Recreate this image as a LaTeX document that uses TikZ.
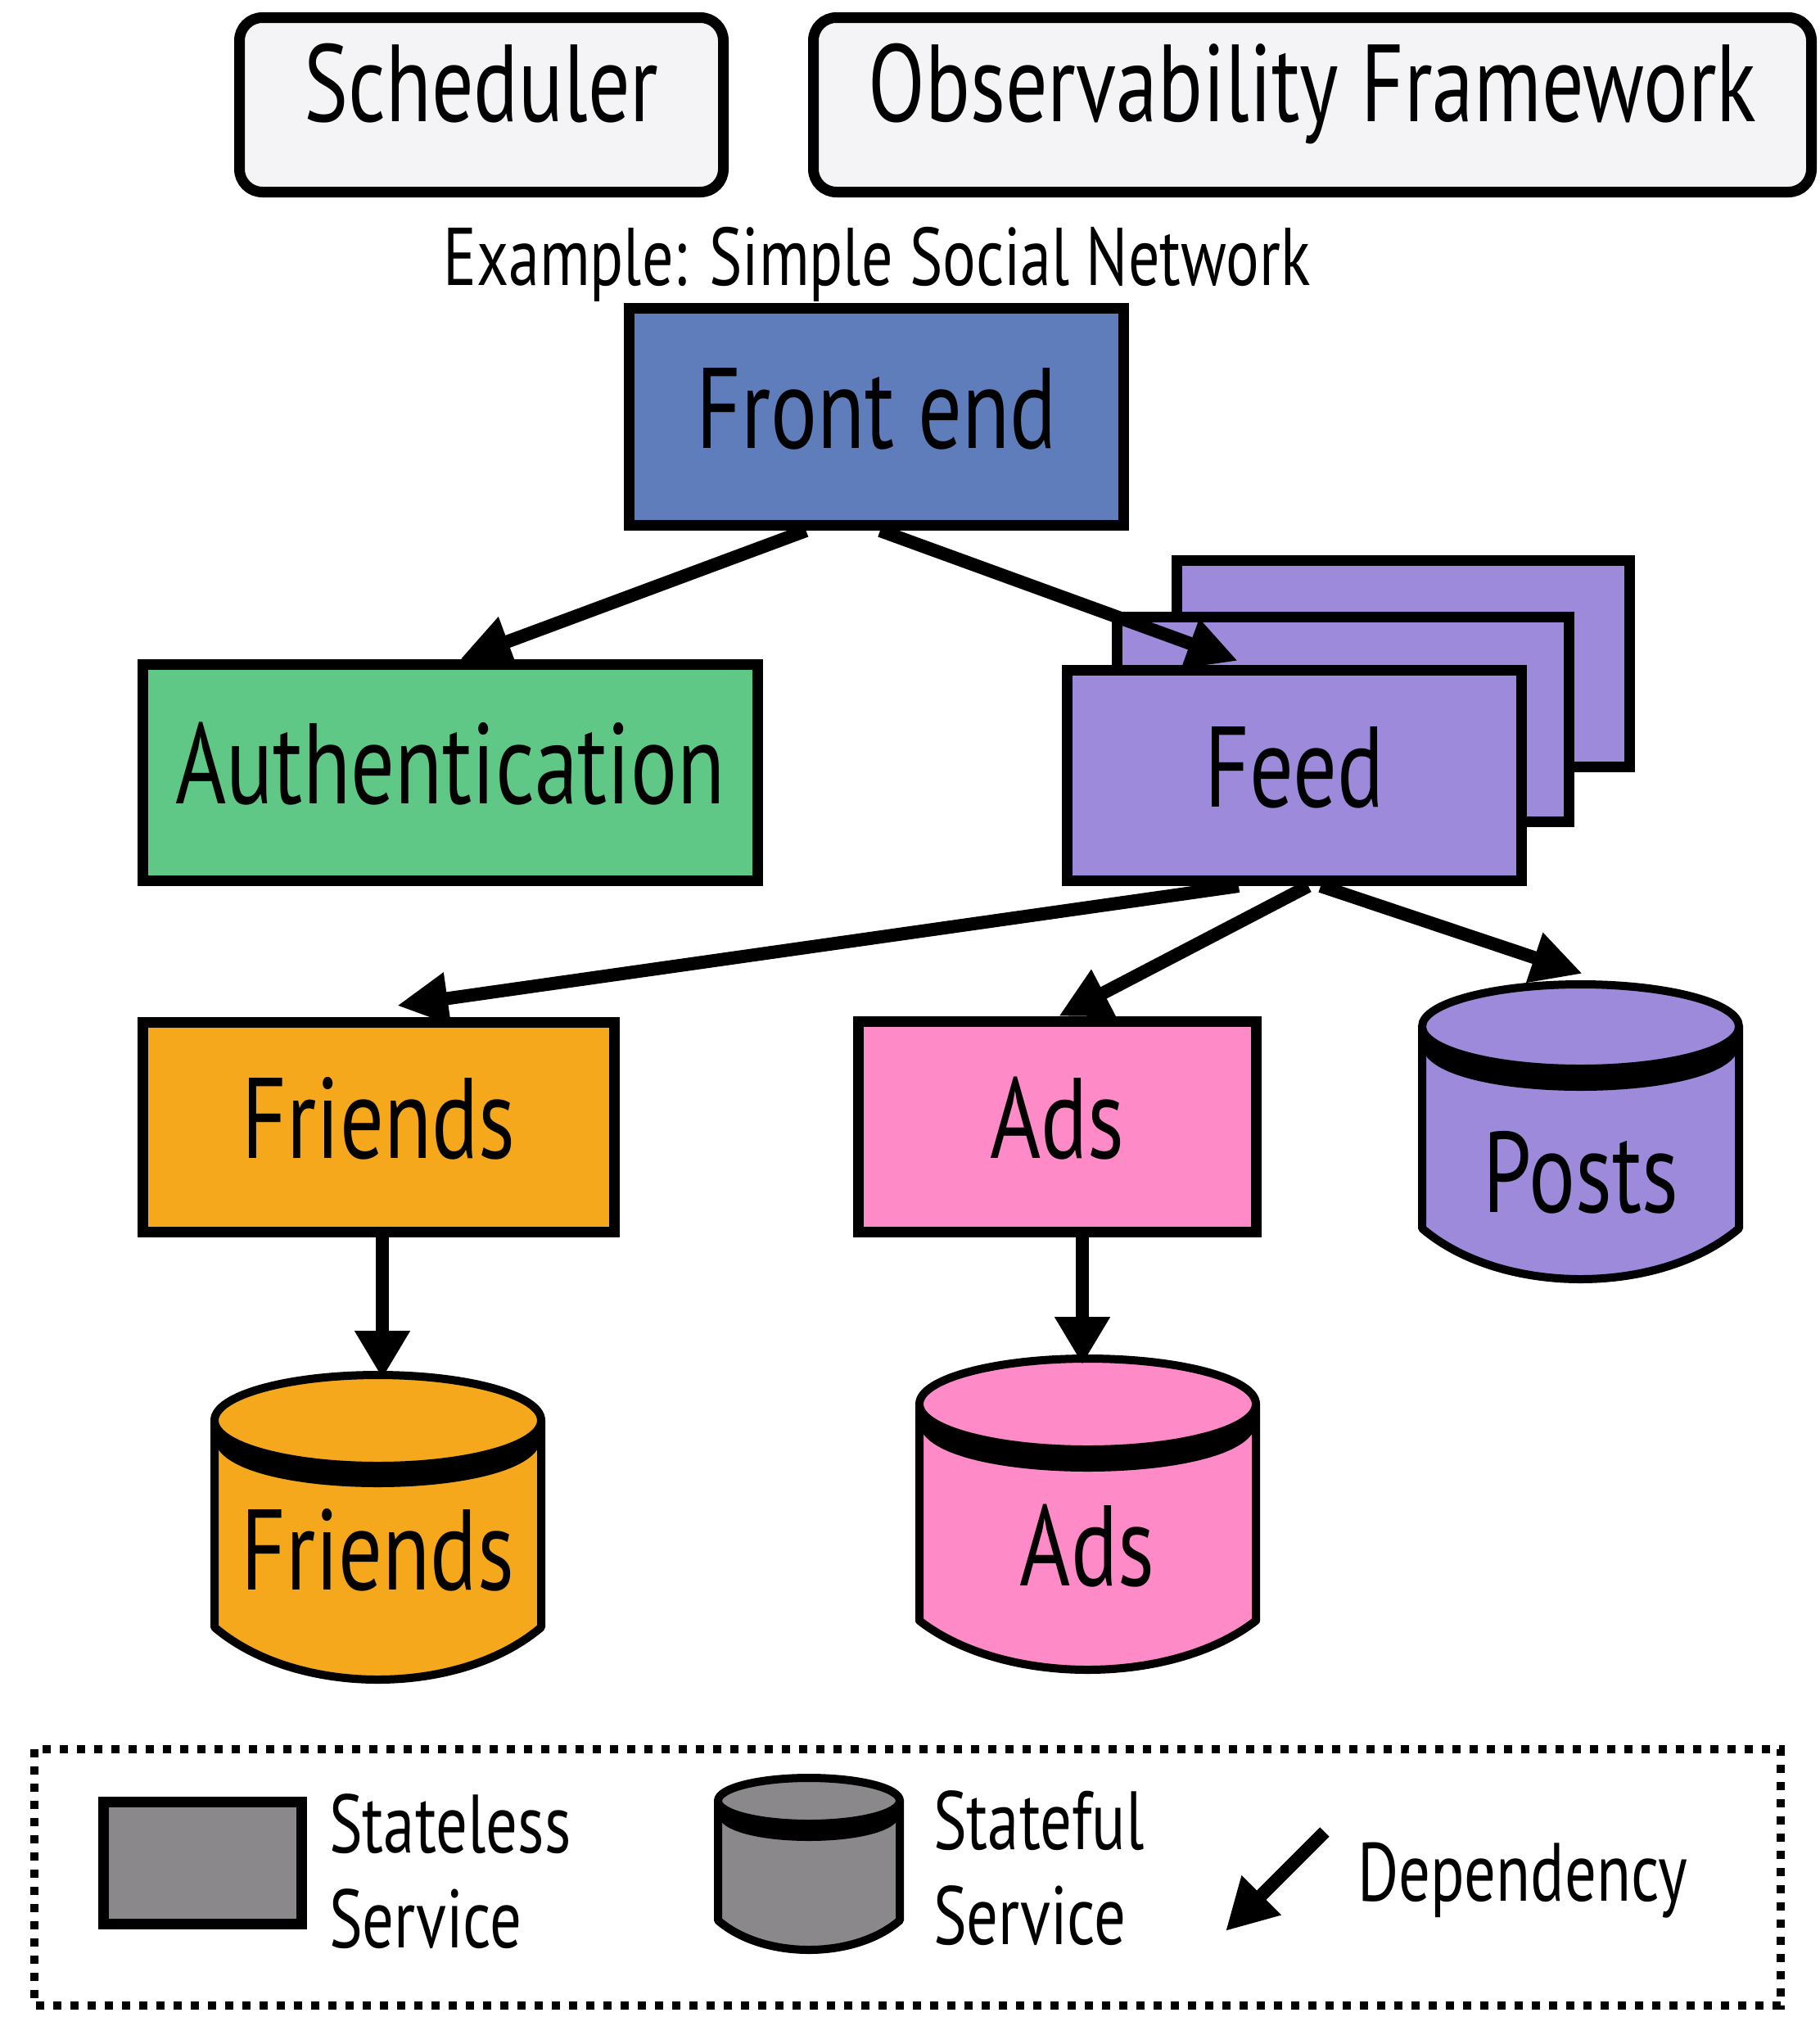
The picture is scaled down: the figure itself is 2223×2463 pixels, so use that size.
\documentclass[tikz,border=0pt]{standalone}
\usepackage{fontspec}
\setmainfont{PT Sans}[FakeStretch=0.76]
\usetikzlibrary{arrows.meta}
\definecolor{schedfill}{HTML}{F4F4F6}
\definecolor{feblue}{HTML}{5E7DBA}
\definecolor{authgreen}{HTML}{5FC886}
\definecolor{feedpurple}{HTML}{9D8ADB}
\definecolor{friendsorange}{HTML}{F5A81C}
\definecolor{adspink}{HTML}{FF8AC8}
\definecolor{legendgray}{HTML}{8A888B}
\newcommand{\lblfont}{\fontsize{140}{160}\selectfont}
\newcommand{\topfont}{\fontsize{134}{156}\selectfont}
\newcommand{\exfont}{\fontsize{100}{120}\selectfont}
\newcommand{\legfont}{\fontsize{101}{116}\selectfont}
% cx, cy, rx, ry, band, side bottom, curve bottom, colour
\newcommand{\dbcyl}[8]{%
  \filldraw[fill=#8, line width=10pt, line join=round]
    ({#1-#3},{#2}) -- ({#1-#3},{#6})
    .. controls ({#1-0.5*#3},{(4*#7-#6)/3}) and ({#1+0.5*#3},{(4*#7-#6)/3}) .. ({#1+#3},{#6})
    -- ({#1+#3},{#2}) -- cycle;
  \fill[black] ({#1-#3},{#2}) .. controls ({#1-#3},{#2+1.3333*#4}) and ({#1+#3},{#2+1.3333*#4}) .. ({#1+#3},{#2})
    -- ({#1+#3},{#2+#5}) .. controls ({#1+#3},{#2+#5+1.3333*(#4+5)}) and ({#1-#3},{#2+#5+1.3333*(#4+5)}) .. ({#1-#3},{#2+#5})
    -- cycle;
  \filldraw[fill=#8, line width=10pt] ({#1},{#2}) ellipse [x radius=#3, y radius=#4];
}
\begin{document}
\begin{tikzpicture}[x=1pt, y=-1pt,
  svc/.style={draw, line width=13pt, inner sep=0pt, text height=116pt, text depth=40pt, font=\lblfont},
  topbox/.style={draw, line width=13pt, fill=schedfill, rounded corners=28pt, inner sep=0pt,
    minimum height=213pt, text height=80pt, text depth=40pt, font=\topfont},
  dblabel/.style={inner sep=0pt, anchor=base, font=\lblfont},
  legtext/.style={inner sep=0pt, anchor=base west, font=\legfont},
  dep/.style={line width=16pt, -{Triangle[length=62pt,width=60pt]}},
  vdep/.style={line width=16pt, -{Triangle[length=58pt,width=64pt]}}
]
\useasboundingbox (0,0) rectangle (2223,2463);
\fill[white] (0,0) rectangle (2223,2463);

% top boxes
\node[topbox, minimum width=591pt] (sched) at (588,128) {Scheduler};
\node[topbox, minimum width=1219pt] (obs) at (1603,128) {Observability Framework};
\node[inner sep=0pt, anchor=base, font=\exfont] (title) at (1071,348) {Example: Simple Social Network};

% feed stack (back copies)
\node[svc, fill=feedpurple, minimum width=553pt, minimum height=252pt] (feedc) at (1714,810.5) {};
\node[svc, fill=feedpurple, minimum width=552pt, minimum height=250pt] (feedb) at (1640.5,878.5) {};

% stateless services
\node[svc, fill=feblue, minimum width=604pt, minimum height=265pt] (fe) at (1070.5,509) {Front end};
\node[svc, fill=authgreen, minimum width=751pt, minimum height=264pt] (auth) at (550,943.5) {Authentication};
\node[svc, fill=feedpurple, minimum width=555pt, minimum height=257pt] (feed) at (1581,947) {Feed};
\node[svc, fill=friendsorange, minimum width=576pt, minimum height=256pt] (friends) at (462.5,1376.5) {Friends};
\node[svc, fill=adspink, minimum width=486pt, minimum height=257pt] (ads) at (1291.5,1376) {Ads};

% stateful services
\dbcyl{1930.5}{1253.5}{193.5}{51.5}{22}{1500}{1562}{feedpurple}
\node[dblabel] (postsdb) at (1931,1480) {Posts};
\coordinate (postsin) at (1933,1189);
\dbcyl{461.5}{1734.5}{199.5}{55.5}{21}{1987}{2051}{friendsorange}
\node[dblabel] (friendsdb) at (461,1941) {Friends};
\coordinate (fdbin) at (467,1683);
\dbcyl{1328.5}{1714.5}{205.5}{55.5}{22}{1979}{2039}{adspink}
\node[dblabel] (adsdb) at (1328,1936) {Ads};
\coordinate (adbin) at (1322,1666);

% dependencies
\draw[dep] ([xshift=-86pt]fe.south) -- ([xshift=12pt]auth.north);
\draw[dep] ([xshift=4.5pt]fe.south) -- ([xshift=-69pt,yshift=5pt]feed.north);
\draw[dep] ([xshift=-68pt]feed.south) -- ([xshift=22.5pt,yshift=14pt]friends.north);
\draw[dep] ([xshift=17pt]feed.south) -- ([xshift=1.5pt]ads.north);
\draw[dep] ([xshift=32pt]feed.south) -- (postsin);
\draw[vdep] ([xshift=4.5pt]friends.south) -- (fdbin);
\draw[vdep] ([xshift=30.5pt]ads.south) -- (adbin);

% legend
\draw[line width=10pt, dash pattern=on 10pt off 11pt] (42,2136) rectangle (2175,2449);
\node[draw, line width=13pt, fill=legendgray, inner sep=0pt, minimum width=242pt, minimum height=149pt] (legsl) at (247.5,2275) {};
\node[legtext] (legsl1) at (402,2262) {Stateless};
\node[legtext] (legsl2) at (402,2378) {Service};
\dbcyl{988}{2199}{111}{28}{16}{2345}{2381}{legendgray}
\node[legtext] (legsf1) at (1140,2258) {Stateful};
\node[legtext] (legsf2) at (1140,2374) {Service};
\coordinate (depa) at (1618,2237);
\coordinate (depb) at (1497,2358);
\draw[line width=16pt, -{Triangle[length=62pt,width=64pt]}] (depa) -- (depb);
\node[legtext] (legdep) at (1658,2321) {Dependency};
\end{tikzpicture}
\end{document}
